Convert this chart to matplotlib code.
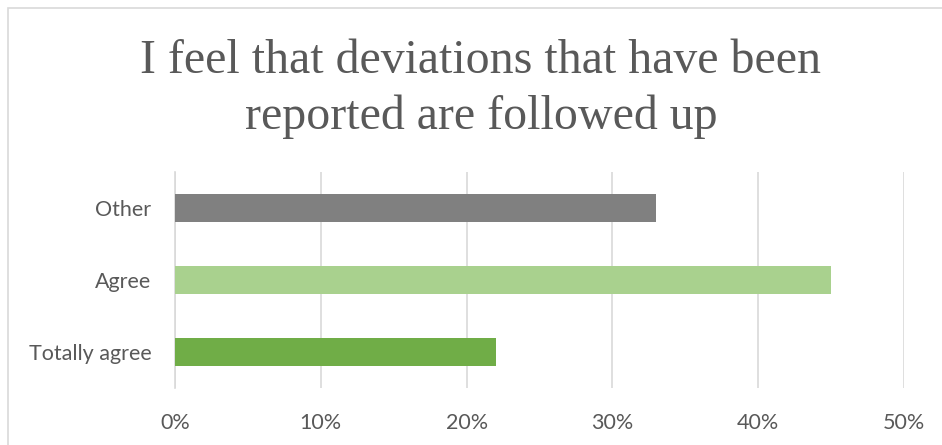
import matplotlib
matplotlib.use("Agg")
import matplotlib.pyplot as plt
from matplotlib.patches import Rectangle
from matplotlib.ticker import PercentFormatter

# survey answers, bottom to top
categories = ["Totally agree", "Agree", "Other"]
shares = [22, 45, 33]
colors = ["#70ad47", "#a9d18e", "#808080"]
xticks = [0, 10, 20, 30, 40, 50]

fig = plt.figure(figsize=(9.42, 4.45), dpi=100)
ax = fig.add_axes([175 / 942, 1 - 388 / 445, (904 - 175) / 942, (388 - 172) / 445])

ax.barh(categories, shares, height=0.4, color=colors, zorder=3)

ax.set_xlim(0, 50)
ax.set_ylim(-0.5, 2.5)
ax.set_xticks(xticks)
ax.xaxis.set_major_formatter(PercentFormatter(decimals=0))
ax.grid(axis="x", color="#d9d9d9", linewidth=1.2, zorder=0)
for side in ["top", "right", "bottom"]:
    ax.spines[side].set_visible(False)
ax.spines["left"].set_color("#d9d9d9")
ax.spines["left"].set_linewidth(1.2)
ax.tick_params(length=0, labelsize=15.5, labelcolor="#595959")
ax.tick_params(axis="x", pad=18)
ax.tick_params(axis="y", pad=17)
for lbl in ax.get_xticklabels() + ax.get_yticklabels():
    lbl.set_fontfamily("Lato")

title_x = 481 / 942
fig.text(title_x, 1 - 61 / 445, "I feel that deviations that have been",
         ha="center", va="center", fontsize=34.5, family="Liberation Serif", color="#595959")
fig.text(title_x, 1 - 117 / 445, "reported are followed up",
         ha="center", va="center", fontsize=34.5, family="Liberation Serif", color="#595959")

# chart frame
fig.patches.append(Rectangle((8 / 942, -0.1), 1.1, 1 - 8 / 445 + 0.1, transform=fig.transFigure,
                             fill=False, edgecolor="#d9d9d9", linewidth=1.2))

fig.savefig("out.png", dpi=100)
